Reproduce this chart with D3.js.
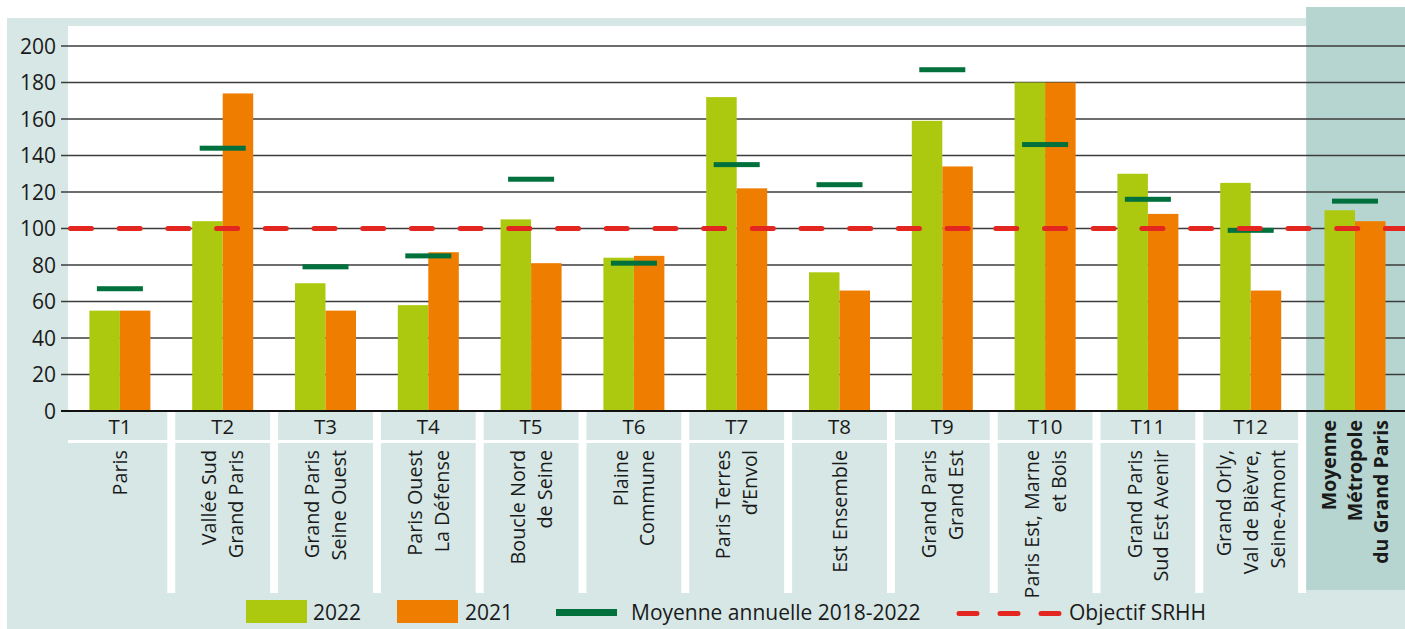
<!DOCTYPE html>
<html>
<head>
<meta charset="utf-8">
<script src="https://cdn.jsdelivr.net/npm/d3@7"></script>
<style>
  body { margin: 0; background: #fff; }
  svg { display: block; font-family: "Open Sans", sans-serif; }
</style>
</head>
<body>
<svg></svg>
<script>
//Dimensions
const width = 1405, height = 629;

//Data
const codes = ["T1","T2","T3","T4","T5","T6","T7","T8","T9","T10","T11","T12","MGP"];
const names = [
  ["Paris"],
  ["Vallée Sud","Grand Paris"],
  ["Grand Paris","Seine Ouest"],
  ["Paris Ouest","La Défense"],
  ["Boucle Nord","de Seine"],
  ["Plaine","Commune"],
  ["Paris Terres","d’Envol"],
  ["Est Ensemble"],
  ["Grand Paris","Grand Est"],
  ["Paris Est, Marne","et Bois"],
  ["Grand Paris","Sud Est Avenir"],
  ["Grand Orly,","Val de Bièvre,","Seine-Amont"],
  ["Moyenne","Métropole","du Grand Paris"]
];
const values2022 = [55, 104, 70, 58, 105, 84, 172, 76, 159, 180, 130, 125, 110];
const values2021 = [55, 174, 55, 87, 81, 85, 122, 66, 134, 180, 108, 66, 104];
const mean2018_2022 = [67, 144, 79, 85, 127, 81, 135, 124, 187, 146, 116, 99, 115];
const objectif = 100;
const yTicks = [0, 20, 40, 60, 80, 100, 120, 140, 160, 180, 200];
const legendLabels = ["2022", "2021", "Moyenne annuelle 2018-2022", "Objectif SRHH"];

//Colors
const colGreen = "#acc90f", colOrange = "#ef7d00", colMean = "#00703c", colRed = "#e3261f";
const bgLight = "#d6e7e5", bgDark = "#b7d5d0";

const svg = d3.select("svg").attr("width", width).attr("height", height);

const plotLeft = 68, plotTop = 26, plotBottom = 411;
const x = d3.scaleBand().domain(codes).range([64.5, 64.5 + 13 * 102.8]);
const y = d3.scaleLinear().domain([0, 200]).range([plotBottom, 46]);
const bw = x.bandwidth();
const center = d => x(d) + bw / 2 + 4 + (d === "MGP" ? 1.5 : 0);
const barW = 30.5;

//Backgrounds
svg.append("rect").attr("x", 7).attr("y", 18).attr("width", width - 7).attr("height", height - 18).attr("fill", bgLight);
svg.append("rect").attr("x", x("MGP") + 8).attr("y", 7).attr("width", width - x("MGP") - 8).attr("height", 583).attr("fill", bgDark);
svg.append("rect").attr("x", plotLeft).attr("y", plotTop).attr("width", x("MGP") + 8 - plotLeft).attr("height", plotBottom - plotTop).attr("fill", "#fff");

// label area separators
svg.selectAll("rect.sep").data(codes.slice(1)).enter().append("rect")
  .attr("class", "sep")
  .attr("x", d => x(d)).attr("y", plotBottom).attr("width", 8).attr("height", 182)
  .attr("fill", "#fff");
svg.append("rect").attr("x", plotLeft).attr("y", 440).attr("width", x("MGP") - plotLeft).attr("height", 3).attr("fill", "#fff");

//Gridlines + axis
const yAxis = d3.axisLeft(y).tickValues(yTicks).tickSize(0).tickPadding(0);
const ga = svg.append("g").attr("transform", "translate(56,0)").call(yAxis);
ga.select(".domain").remove();
ga.selectAll("text").attr("font-size", 21).attr("fill", "#1a1a1a").attr("font-family", "Open Sans, sans-serif").attr("dy", "0.35em");

svg.selectAll("line.grid").data(yTicks.filter(t => t > 0)).enter().append("line")
  .attr("class", "grid")
  .attr("x1", 61).attr("x2", width)
  .attr("y1", d => y(d)).attr("y2", d => y(d))
  .attr("stroke", "#3c3c3c").attr("stroke-width", 1.4);

//Bars
svg.selectAll("rect.b22").data(codes).enter().append("rect")
  .attr("class", "b22")
  .attr("x", d => center(d) - barW).attr("width", barW)
  .attr("y", (d, i) => y(values2022[i])).attr("height", (d, i) => y(0) - y(values2022[i]))
  .attr("fill", colGreen);
svg.selectAll("rect.b21").data(codes).enter().append("rect")
  .attr("class", "b21")
  .attr("x", d => center(d)).attr("width", barW)
  .attr("y", (d, i) => y(values2021[i])).attr("height", (d, i) => y(0) - y(values2021[i]))
  .attr("fill", colOrange);

//Zero line
svg.append("line").attr("x1", 61).attr("x2", width).attr("y1", y(0)).attr("y2", y(0))
  .attr("stroke", "#111").attr("stroke-width", 2);

//Mean marks
svg.selectAll("rect.mean").data(codes).enter().append("rect")
  .attr("class", "mean")
  .attr("x", d => center(d) - 23).attr("width", 46)
  .attr("y", (d, i) => y(mean2018_2022[i]) - 2.5).attr("height", 5)
  .attr("fill", colMean);

//Objectif line
svg.append("line").attr("x1", plotLeft + 2.5).attr("x2", width).attr("y1", y(objectif)).attr("y2", y(objectif))
  .attr("stroke", colRed).attr("stroke-width", 5).attr("stroke-linecap", "round")
  .attr("stroke-dasharray", "21 27.7");

//Category labels
svg.selectAll("text.code").data(codes.slice(0, 12)).enter().append("text")
  .attr("class", "code")
  .attr("x", d => center(d)).attr("y", 434)
  .attr("text-anchor", "middle").attr("font-size", 20.5).attr("fill", "#1a1a1a")
  .text(d => d);

codes.forEach((c, i) => {
  const lines = names[i];
  const isAvg = c === "MGP";
  const step = isAvg ? 25.7 : 26.8;
  const topY = isAvg ? 420 : 450;
  lines.forEach((t, j) => {
    const cx = center(c) + (j - (lines.length - 1) / 2) * step;
    svg.append("text")
      .attr("transform", `translate(${cx},${topY}) rotate(-90)`)
      .attr("dy", "0.36em")
      .attr("text-anchor", "end")
      .attr("font-size", isAvg ? 19.5 : 19.8)
      .attr("font-weight", isAvg ? 700 : 400)
      .attr("fill", "#1a1a1a")
      .text(t);
  });
});

//Legend
const lg = svg.append("g").attr("font-size", 21).attr("fill", "#1a1a1a");
lg.append("rect").attr("x", 246).attr("y", 600).attr("width", 61).attr("height", 23).attr("fill", colGreen);
lg.append("text").attr("x", 313).attr("y", 619.5).text(legendLabels[0]);
lg.append("rect").attr("x", 397).attr("y", 600).attr("width", 61).attr("height", 23).attr("fill", colOrange);
lg.append("text").attr("x", 465).attr("y", 619.5).text(legendLabels[1]);
lg.append("rect").attr("x", 556).attr("y", 609).attr("width", 61).attr("height", 7).attr("fill", colMean);
lg.append("text").attr("x", 631).attr("y", 619.5).text(legendLabels[2]);
lg.append("line").attr("x1", 959).attr("x2", 1062).attr("y1", 613.5).attr("y2", 613.5)
  .attr("stroke", colRed).attr("stroke-width", 5).attr("stroke-linecap", "round")
  .attr("stroke-dasharray", "18 23");
lg.append("text").attr("x", 1069).attr("y", 619.5).text(legendLabels[3]);
</script>
</body>
</html>
